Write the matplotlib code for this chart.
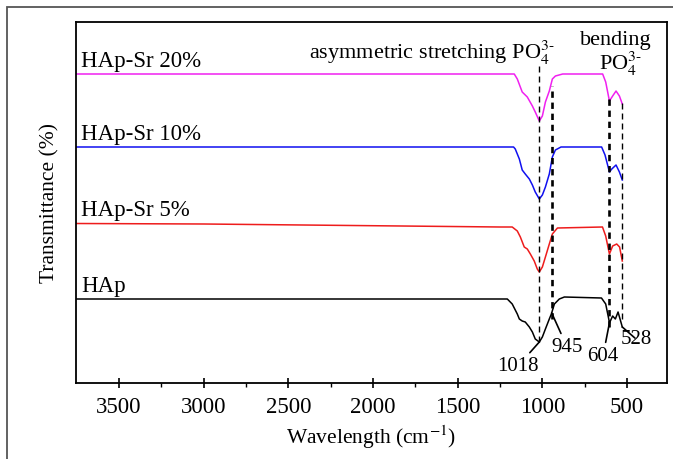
import numpy as np
import matplotlib
matplotlib.use('Agg')
import matplotlib.pyplot as plt
from matplotlib.patches import Rectangle

plt.rcParams['font.family'] = ['Liberation Serif', 'DejaVu Serif']
plt.rcParams['mathtext.fontset'] = 'stix'

# FTIR spectra (wavenumber, transmittance in arbitrary units)
hap_wn = [3754, 2500, 1250, 1207, 1178, 1148, 1136, 1119, 1101, 1077, 1059, 1042, 1018,
          1000, 982, 959, 947, 929, 900, 870, 651, 626, 608, 604, 585, 569, 553, 528]
hap_t = [90, 90, 90, 90, 85, 75, 70, 68, 67, 62, 57, 50, 47,
         52, 60, 70, 75, 85, 90, 92, 91, 85, 70, 66, 73, 70, 77, 62]

sr5_wn = [3754, 3000, 1250, 1178, 1148, 1130, 1107, 1089, 1071, 1048, 1030, 1018,
          1000, 982, 959, 941, 911, 645, 626, 604, 585, 561, 544, 528]
sr5_t = [91.5, 91, 88, 88, 84, 78, 68, 66, 61, 54, 46, 43,
         48, 58, 71, 81, 87, 88, 79, 61, 69, 71, 68, 54]

sr10_wn = [3754, 2500, 1170, 1160, 1136, 1119, 1101, 1077, 1059, 1042, 1018,
           1000, 982, 959, 941, 923, 890, 650, 630, 604, 590, 565, 545, 528]
sr10_t = [90, 90, 90, 88, 78, 67, 63, 58, 52, 45, 38,
          42, 50, 63, 80, 87, 90, 90, 82, 65, 68, 72, 65, 57]

sr20_wn = [3754, 2500, 1166, 1148, 1119, 1089, 1059, 1042, 1018,
           1000, 982, 959, 941, 923, 880, 644, 626, 604, 585, 565, 545, 528]
sr20_t = [90, 90, 90, 85, 72, 67, 58, 52, 43,
          48, 62, 73, 85, 88, 90, 90, 82, 63, 68, 73, 68, 60]

series_names = ['HAp', 'HAp-Sr 5%', 'HAp-Sr 10%', 'HAp-Sr 20%']
series_colors = ['black', '#ee1c1c', '#1010f0', '#f020f0']
offsets = [0, 74, 152, 225]

peak_wn = [1018, 945, 604, 528]
peak_labels = ['1018', '945', '604', '528']

fig = plt.figure(figsize=(6.73, 4.60), dpi=100)
ax = fig.add_axes([76/673, 1 - 384/460, (667-76)/673, (384-23)/460])

spectra = [(hap_wn, hap_t), (sr5_wn, sr5_t), (sr10_wn, sr10_t), (sr20_wn, sr20_t)]
for (wn, t), name, c, off in zip(spectra, series_names, series_colors, offsets):
    ax.plot(wn, np.array(t) + off, color=c, lw=1.1)
    ax.text(3724, t[0] + off + 8, name, fontsize=16.5, ha='left', va='baseline')

# dashed guides at the phosphate bands
dash_style = [(47, 323, 1.0), (70, 303, 1.9), (62, 290, 1.9), (70, 287, 1.0)]
for wn, (lo, hi, lw) in zip(peak_wn, dash_style):
    ax.plot([wn, wn], [lo, hi], color='black', lw=lw,
            ls=(0, (4.3, 2.9)) if lw < 1.5 else (0, (2.4, 1.8)))

# peak labels with leader lines to the HAp curve
label_pos = [(1144, 23), (854, 42), (642, 33), (447, 50)]
for wn, lab, (tx, ty) in zip(peak_wn, peak_labels, label_pos):
    yv = np.interp(wn, hap_wn[::-1], hap_t[::-1])
    ax.annotate(lab, xy=(wn, yv), xytext=(tx, ty), fontsize=15, ha='center', va='center',
                arrowprops=dict(arrowstyle='-', color='black', lw=1.2, shrinkA=1, shrinkB=0))

ax.text(925, 331, r'asymmetric stretching PO$_4^{3\text{-}}$', fontsize=16, ha='right', va='baseline')
ax.text(565, 345, 'bending', fontsize=16, ha='center', va='baseline')
ax.text(540, 320, r'PO$_4^{3\text{-}}$', fontsize=16, ha='center', va='baseline')

ax.set_xlim(3754, 264)
ax.set_ylim(6, 367)
ax.set_yticks([])
ax.set_xticks([3500, 3000, 2500, 2000, 1500, 1000, 500])
ax.set_xticks(np.arange(3250, 600, -500), minor=True)
ax.tick_params(axis='x', which='major', direction='inout', length=7, width=1.2, labelsize=16.5, pad=6)
ax.tick_params(axis='x', which='minor', direction='out', length=3, width=1.0)
for s in ax.spines.values():
    s.set_linewidth(1.3)

ax.set_xlabel('Wavelength (cm$^{-1}$)', fontsize=15.5, labelpad=4)
ax.set_ylabel('Transmittance (%)', fontsize=15.5, labelpad=12)

# outer frame around the figure
fig.patches.append(Rectangle((7/673, -0.5), 2, 0.5 + 1 - 8/460, transform=fig.transFigure,
                             fill=False, ec='#555555', lw=1.3))

fig.savefig('out.png', dpi=100)
